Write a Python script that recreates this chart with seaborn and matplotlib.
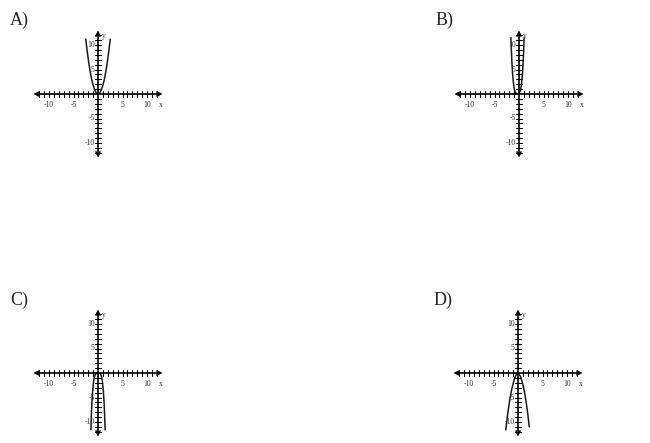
import numpy as np
import pandas as pd
import seaborn as sns
from matplotlib import pyplot as plt

# panel labels and where their origin sits in the picture (pixels from top-left)
panel_names = ["A)", "B)", "C)", "D)"]
origin_px = [(98, 94), (519, 94), (98, 373), (518, 373)]
label_px = [(10, 20), (436, 20), (10, 300), (434, 300)]

# curve points (x, y in graph units)
curve_a_x = [-2.5, -2.2, -1.9, -1.6, -1.3, -1.0, -0.7, -0.4, -0.2, 0.0, 0.2, 0.4, 0.7, 1.0, 1.3, 1.6, 1.9, 2.2, 2.5]
curve_a_y = [11.2, 8.7, 6.5, 4.6, 3.0, 1.8, 0.9, 0.3, 0.07, 0.0, 0.07, 0.3, 0.9, 1.8, 3.0, 4.6, 6.5, 8.7, 11.2]

curve_b_x = [-1.65, -1.55, -1.45, -1.3, -1.1, -0.9, -0.6, -0.3, 0.0, 0.3, 0.5, 0.7, 0.85, 0.95, 1.05]
curve_b_y = [11.5, 8.8, 6.5, 4.0, 1.9, 0.7, 0.1, 0.0, 0.1, 0.7, 1.9, 4.0, 6.5, 8.8, 11.5]

curve_c_x = [-1.45, -1.35, -1.25, -1.1, -0.9, -0.7, -0.4, 0.0, 0.4, 0.7, 0.9, 1.1, 1.25, 1.35, 1.45]
curve_c_y = [-11.6, -8.5, -6.2, -3.8, -1.7, -0.6, -0.07, 0.0, -0.07, -0.6, -1.7, -3.8, -6.2, -8.5, -11.6]

curve_d_x = [-2.5, -2.2, -1.9, -1.6, -1.3, -1.0, -0.7, -0.4, -0.1, 0.2, 0.5, 0.8, 1.1, 1.4, 1.7, 2.0, 2.3]
curve_d_y = [-11.6, -9.1, -6.9, -5.0, -3.4, -2.2, -1.1, -0.4, 0.0, -0.2, -0.7, -1.6, -2.8, -4.3, -6.2, -8.4, -11.0]

curves = [(curve_a_x, curve_a_y), (curve_b_x, curve_b_y),
          (curve_c_x, curve_c_y), (curve_d_x, curve_d_y)]

tick_values = [-10, -5, 5, 10]
tick_labels = ["-10", "-5", "5", "10"]

W, H = 650, 443
PX_PER_UNIT = 4.9
LIM = 14

sns.set_style("white")
plt.rcParams["font.family"] = ["Liberation Serif", "DejaVu Serif"]

fig = plt.figure(figsize=(W / 100, H / 100), dpi=100)

for name, (cx, cy), (lx, ly), (xs, ys) in zip(panel_names, origin_px, label_px, curves):
    fig.text(lx / W, 1 - ly / H, name, fontsize=13, ha="left", va="center")

    size = 2 * LIM * PX_PER_UNIT
    left = (cx - size / 2) / W
    bottom = (H - cy - size / 2) / H
    ax = fig.add_axes([left, bottom, size / W, size / H])
    ax.set_xlim(-LIM, LIM)
    ax.set_ylim(-LIM, LIM)
    ax.axis("off")

    # axes with arrows at both ends
    arrow = dict(arrowstyle="<->", color="black", lw=1.2,
                 mutation_scale=7, shrinkA=0, shrinkB=0)
    ax.annotate("", xy=(13.2, 0), xytext=(-13.2, 0), arrowprops=arrow)
    ax.annotate("", xy=(0, 13.0), xytext=(0, -13.0), arrowprops=arrow)

    # crossing tick marks at every unit
    for t in range(-12, 13):
        if t == 0:
            continue
        ax.plot([t, t], [-0.6, 0.6], color="black", lw=0.8)
        ax.plot([-0.6, 0.6], [t, t], color="black", lw=0.8)

    for v, s in zip(tick_values, tick_labels):
        ax.text(v, -1.4, s, fontsize=5.5, color="#333333", ha="center", va="top")
        ax.text(-0.7, v, s, fontsize=5.5, color="#333333", ha="right", va="center")
    ax.text(12.8, -1.4, "x", fontsize=5.5, color="#333333", ha="center", va="top")
    ax.text(0.8, 11.8, "y", fontsize=5.5, color="#333333", ha="left", va="center")

    df = pd.DataFrame({"x": xs, "y": ys})
    sns.lineplot(data=df, x="x", y="y", ax=ax, sort=False,
                 color="#1a1a1a", lw=1.1, estimator=None)

fig.savefig("out.png", dpi=100)
